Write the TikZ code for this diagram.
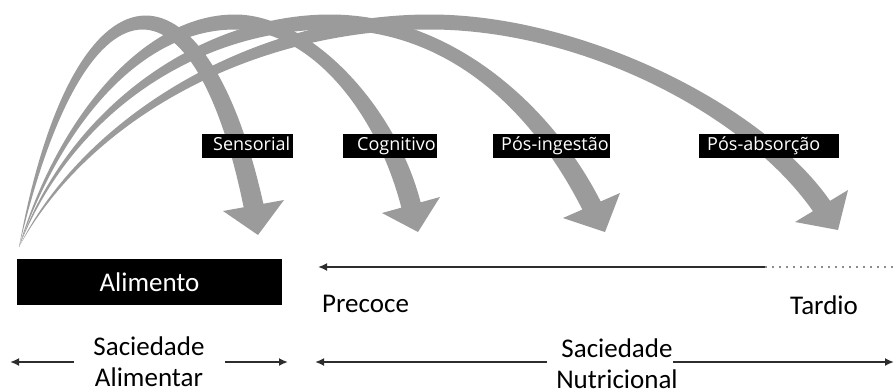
\documentclass[tikz,border=0pt]{standalone}
\usepackage{fontspec}
\setmainfont{Carlito}
\newfontfamily\lblfont{Open Sans}
\usetikzlibrary{arrows.meta,calc}
\definecolor{arcgray}{RGB}{155,155,155}
\definecolor{linegray}{RGB}{45,45,45}
\definecolor{dotgray}{RGB}{140,140,140}
\begin{document}
\begin{tikzpicture}[x=1pt,y=-1pt,
  bigtext/.style={font=\fontsize{27}{31}\selectfont, inner sep=0pt},
  lblbox/.style={fill=black, text=white, font=\lblfont\fontsize{18}{20}\selectfont,
    inner xsep=0pt, inner ysep=3.5pt, text height=13pt, text depth=4pt, anchor=north west},
  sline/.style={draw=linegray, line width=2.5pt, -{Latex[length=9pt,width=8pt]}},
  dline/.style={draw=dotgray, line width=2pt, dash pattern=on 2pt off 5pt},
  garrow/.style={fill=arcgray}
]
\useasboundingbox (0,0) rectangle (894,391);

% common origin
\coordinate (O) at (19,247);

% arrow 1 (Sensorial)
\coordinate (L1) at (223,211); \coordinate (R1) at (284,200); \coordinate (T1) at (258,235);
\coordinate (B1o) at ($(L1)!0.5!(R1)!10pt!(R1)$);
\coordinate (B1i) at ($(L1)!0.5!(R1)!10pt!(L1)$);
\fill[garrow] (O) .. controls (74,-54) and (206,-54) .. (B1o) -- (R1) -- (T1) -- (L1) -- (B1i)
  .. controls (194,-36) and (86,-36) .. (O) -- cycle;

% arrow 2 (Cognitivo)
\coordinate (L2) at (382,213); \coordinate (R2) at (440,197); \coordinate (T2) at (418,232);
\coordinate (B2o) at ($(L2)!0.5!(R2)!10pt!(R2)$);
\coordinate (B2i) at ($(L2)!0.5!(R2)!10pt!(L2)$);
\fill[garrow] (O) .. controls (55,124) and (140,14.5) .. (235,14.5)
  .. controls (310,14.5) and (395.6,105.3) .. (B2o) -- (R2) -- (T2) -- (L2) -- (B2i)
  .. controls (376.4,110.7) and (310,29.5) .. (235,29.5)
  .. controls (140,29.5) and (61,126) .. (O) -- cycle;

% arrow 3 (Pos-ingestao)
\coordinate (L3) at (563,218); \coordinate (R3) at (620,193); \coordinate (T3) at (605,232);
\coordinate (B3o) at ($(L3)!0.5!(R3)!10pt!(R3)$);
\coordinate (B3i) at ($(L3)!0.5!(R3)!10pt!(L3)$);
\fill[garrow] (O) .. controls (67,109) and (200,14.5) .. (330,14.5)
  .. controls (450,14.5) and (551.2,104) .. (B3o) -- (R3) -- (T3) -- (L3) -- (B3i)
  .. controls (532.8,112) and (450,29.5) .. (330,29.5)
  .. controls (200,29.5) and (73,111) .. (O) -- cycle;

% arrow 4 (Pos-absorcao)
\coordinate (L4) at (795,222); \coordinate (R4) at (848,190); \coordinate (T4) at (838,230);
\coordinate (B4o) at ($(L4)!0.5!(R4)!10pt!(R4)$);
\coordinate (B4i) at ($(L4)!0.5!(R4)!10pt!(L4)$);
\fill[garrow] (O) .. controls (82,119) and (250,14.5) .. (430,14.5)
  .. controls (580,14.5) and (761.6,102.8) .. (B4o) -- (R4) -- (T4) -- (L4) -- (B4i)
  .. controls (744.4,113.2) and (580,29.5) .. (430,29.5)
  .. controls (250,29.5) and (88,121) .. (O) -- cycle;

% label boxes
\node[lblbox] (sens) at (202,134) {\makebox[91pt][l]{\hspace{11pt}Sensorial}};
\node[lblbox] (cogn) at (343,134) {\makebox[94pt][l]{\hspace{14pt}Cognitivo}};
\node[lblbox] (ping) at (493,134) {\makebox[117pt][l]{\hspace{8pt}Pós-ingestão}};
\node[lblbox] (pabs) at (699,134) {\makebox[140pt][l]{\hspace{8pt}Pós-absorção}};

% Alimento box
\node[bigtext, fill=black, text=white, minimum width=265pt, minimum height=46pt] (ali) at (149.5,282) {Alimento};

% time line
\coordinate (tl0) at (318,267);
\coordinate (tl1) at (765,267);
\coordinate (tl2) at (894,267);
\draw[sline] (tl1) -- (tl0);
\draw[dline] (tl1) -- (tl2);

\node[bigtext, anchor=base west] (pre) at (322,312) {Precoce};
\node[bigtext, anchor=base west] (tar) at (790,314) {Tardio};

% bottom labels
\node[bigtext, align=center, anchor=north] (sa) at (149,337) {Saciedade\\Alimentar};
\node[bigtext, align=center, anchor=north] (sn) at (617,339) {Saciedade\\Nutricional};

\coordinate (a0) at (10,362);
\coordinate (a1) at (74,362);
\coordinate (a2) at (225,362);
\coordinate (a3) at (288,362);
\coordinate (n0) at (315,362);
\coordinate (n1) at (547,362);
\coordinate (n2) at (673,362);
\coordinate (n3) at (894,362);
\draw[sline] (a1) -- (a0);
\draw[sline] (a2) -- (a3);
\draw[sline] (n1) -- (n0);
\draw[sline] (n2) -- (n3);
\end{tikzpicture}
\end{document}
